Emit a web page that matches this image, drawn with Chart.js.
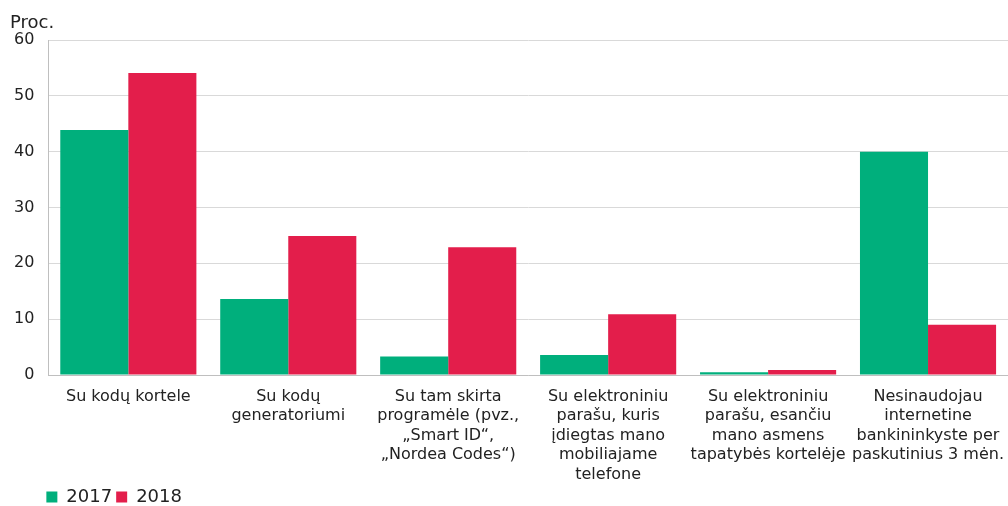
<!DOCTYPE html>
<html>
<head>
<meta charset="utf-8">
<script src="https://cdn.jsdelivr.net/npm/chart.js@4"></script>
<style>
  html, body { margin: 0; padding: 0; background: #fff; }
  #wrap { width: 1008px; height: 506px; }
</style>
</head>
<body>
<div id="wrap"><canvas id="authChart"></canvas></div>
<script>
// Data //

const categories = [
  ["Su kodų kortele"],
  ["Su kodų", "generatoriumi"],
  ["Su tam skirta", "programėle (pvz.,", "„Smart ID“,", "„Nordea Codes“)"],
  ["Su elektroniniu", "parašu, kuris", "įdiegtas mano", "mobiliajame", "telefone"],
  ["Su elektroniniu", "parašu, esančiu", "mano asmens", "tapatybės kortelėje"],
  ["Nesinaudojau", "internetine", "bankininkyste per", "paskutinius 3 mėn."]
];
const values2017 = [43.9, 13.6, 3.3, 3.6, 0.5, 40];
const values2018 = [54.1, 24.9, 22.9, 10.9, 0.9, 9];
const yTicks = [0, 10, 20, 30, 40, 50, 60];

const green = '#00af7c';
const red = '#e31e4b';

Chart.defaults.font.family = "'DejaVu Sans', Verdana, sans-serif";
Chart.defaults.color = '#222';

// nudge title and legend like the original layout
const nudgeBlocks = {
  id: 'nudgeBlocks',
  afterLayout(chart) {
    if (chart.titleBlock) {
      chart.titleBlock.left += 10;
      chart.titleBlock.right += 10;
    }
    if (chart.legend) {
      chart.legend.left -= 6;
      chart.legend.right -= 6;
      chart.legend.top -= 12.6;
      chart.legend.bottom -= 12.6;
    }
  }
};

const ctx = document.querySelector('#authChart').getContext('2d');
const authChart = new Chart(ctx, {
  type: 'bar',
  data: {
    labels: categories,
    datasets: [{
      label: '2017',
      data: values2017,
      backgroundColor: green
    },
    {
      label: '2018',
      data: values2018,
      backgroundColor: red
    }]
  },
  plugins: [nudgeBlocks],
  options: {
    responsive: true,
    maintainAspectRatio: false,
    animation: false,
    layout: { padding: { left: 0, right: 0, top: 0, bottom: -22.6 } },
    datasets: {
      bar: { barPercentage: 1, categoryPercentage: 0.851 }
    },
    plugins: {
      title: {
        display: true,
        text: 'Proc.',
        align: 'start',
        font: { size: 18, weight: 'normal', lineHeight: 1.2 },
        padding: { top: 13, bottom: 5.4 }
      },
      legend: {
        position: 'bottom',
        align: 'start',
        fullSize: false,
        labels: {
          boxWidth: 11,
          boxHeight: 11,
          padding: 4,
          font: { size: 18 }
        }
      },
      tooltip: { enabled: false }
    },
    scales: {
      x: {
        afterFit: scale => { scale.paddingLeft = 0; scale.paddingRight = 0; },
        grid: { display: false, drawTicks: false },
        border: { display: true, color: '#bfbfbf', width: 1 },
        ticks: {
          autoSkip: false,
          maxRotation: 0,
          padding: 12,
          font: { size: 16, lineHeight: 1.22 }
        }
      },
      y: {
        min: 0,
        max: 60,
        afterBuildTicks: axis => { axis.ticks = yTicks.map(v => ({ value: v })); },
        grid: { color: '#d9d9d9', drawTicks: false },
        border: { display: true, color: '#bfbfbf', width: 1 },
        ticks: {
          padding: 14,
          font: { size: 16 }
        }
      }
    }
  }
});
</script>
</body>
</html>
